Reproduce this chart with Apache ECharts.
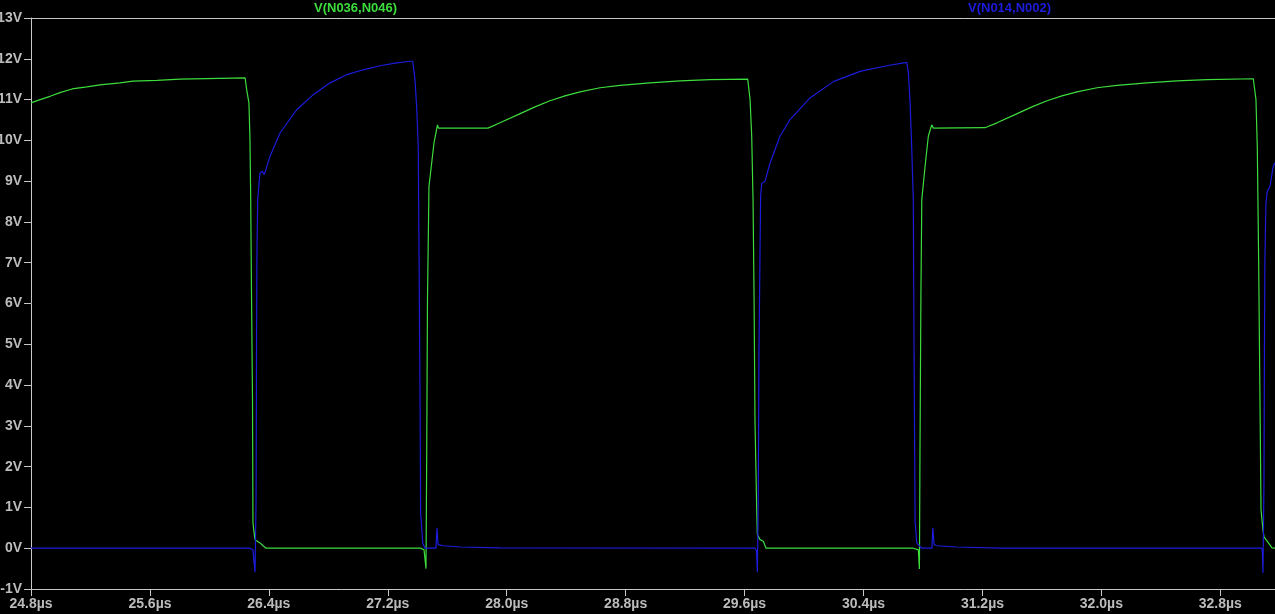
<!DOCTYPE html>
<html>
<head>
<meta charset="utf-8">
<script src="https://cdn.jsdelivr.net/npm/echarts@6/dist/echarts.min.js"></script>
<style>
html,body{margin:0;padding:0;background:#000;}
#chart{width:1275px;height:614px;}
</style>
</head>
<body>
<div id="chart"></div>
<script>
// Trace names
const traceNames = ['V(N036,N046)', 'V(N014,N002)'];

// V(N036,N046) : time (µs) and voltage (V)
const greenTime = [24.800,24.861,24.928,24.995,25.076,25.175,25.264,25.399,25.486,25.648,25.802,26.240,
  26.251,26.266,26.273,26.278,26.283,26.290,26.293,26.300,26.307,26.320,26.340,26.361,26.381,
  27.423,27.444,27.457,27.462,27.467,27.477,27.511,27.534,27.541,27.874,
  27.955,28.076,28.190,28.291,28.392,28.493,28.628,28.762,28.964,29.166,29.368,29.621,
  29.637,29.648,29.657,29.664,29.670,29.682,29.686,29.704,29.726,29.744,
  30.735,30.769,30.776,30.780,30.786,30.792,30.814,30.836,30.859,30.870,31.217,
  31.298,31.419,31.533,31.635,31.735,31.836,31.971,32.105,32.307,32.509,32.711,33.022,
  33.040,33.049,33.058,33.067,33.074,33.087,33.094,33.114,33.148,33.168];
const greenVolt = [10.92,11.00,11.08,11.17,11.26,11.31,11.36,11.41,11.45,11.47,11.50,11.53,
  11.24,10.92,10.02,8.54,6.34,3.64,0.63,0.40,0.21,0.17,0.13,0.06,0.00,
  0.00,-0.04,-0.50,2.41,6.09,8.87,9.94,10.38,10.30,10.30,
  10.43,10.63,10.82,10.97,11.09,11.19,11.29,11.35,11.41,11.46,11.49,11.50,
  11.00,10.10,8.54,6.09,3.15,0.87,0.33,0.21,0.17,0.00,
  0.00,-0.04,-0.51,2.41,6.09,8.54,9.36,10.10,10.38,10.30,10.31,
  10.43,10.63,10.82,10.97,11.09,11.19,11.29,11.35,11.41,11.46,11.49,11.51,
  11.00,9.82,7.07,3.64,0.94,0.45,0.28,0.18,0.01,0.00];

// V(N014,N002) : time (µs) and voltage (V)
const blueTime = [24.800,26.273,26.293,26.303,26.307,26.314,26.317,26.320,26.325,26.340,26.356,26.369,26.408,26.475,26.587,26.699,26.811,26.924,27.035,27.148,27.260,27.350,27.368,
  27.383,27.395,27.405,27.410,27.417,27.421,27.435,27.450,27.524,27.531,27.538,27.574,27.686,27.955,
  29.670,29.680,29.686,29.692,29.697,29.704,29.708,29.715,29.726,29.737,29.771,29.838,29.906,30.040,30.197,30.377,30.556,30.691,
  30.702,30.713,30.724,30.735,30.740,30.747,30.758,30.792,30.861,30.866,30.875,30.893,31.027,31.318,
  33.078,33.083,33.087,33.094,33.097,33.100,33.107,33.116,33.134,33.156,33.168];
const blueVolt = [0.00,0.00,-0.04,-0.06,-0.59,1.19,4.87,7.32,8.54,9.20,9.24,9.16,9.61,10.18,10.75,11.12,11.41,11.61,11.73,11.83,11.90,11.94,11.94,
  11.49,10.76,9.85,7.32,3.64,0.87,0.13,0.00,0.00,0.50,0.09,0.06,0.03,0.01,
  0.00,-0.06,-0.59,1.19,4.87,7.32,8.63,8.95,8.99,8.99,9.44,10.10,10.51,11.04,11.44,11.69,11.83,11.91,
  11.65,10.95,9.85,8.54,4.87,0.66,0.13,0.00,0.00,0.50,0.09,0.06,0.03,0.00,
  0.00,-0.06,-0.61,1.68,4.87,7.07,8.46,8.75,8.87,9.36,9.45];

// Axis settings (values)
const xMin = 24.8, xMax = 33.168, xStep = 0.8;
const yMin = -1, yMax = 13, yStep = 1;

const greenColor = '#3ddc3d';
const blueColor = '#1c1cdc';
const axisColor = '#c8c8c8';
const labelColor = '#bcbcbc';

function pairs(t, v){ return t.map((x,i)=>[x, v[i]]); }

const chart = echarts.init(document.getElementById('chart'), null, {renderer:'canvas'});
chart.setOption({
  backgroundColor: '#000000',
  animation: false,
  title: [
    {text: traceNames[0], left: 314, top: 2, padding: 0,
     textStyle:{color: greenColor, fontSize: 13, fontWeight: 'bold', fontFamily: 'Liberation Sans'}},
    {text: traceNames[1], left: 968, top: 2, padding: 0,
     textStyle:{color: blueColor, fontSize: 13, fontWeight: 'bold', fontFamily: 'Liberation Sans'}}
  ],
  grid: {left: 31, right: 0, top: 18, bottom: 25, containLabel: false, outerBoundsMode: 'none'},
  xAxis: [{
    type: 'value', min: xMin, max: xMax, interval: xStep, position: 'bottom',
    axisLine: {show: true, onZero: false, lineStyle: {color: axisColor, width: 1}},
    axisTick: {show: true, length: 7, lineStyle: {color: axisColor}},
    axisLabel: {color: labelColor, fontSize: 14, fontWeight: 'bold', fontFamily: 'Liberation Sans', margin: 8,
      showMaxLabel: false,
      formatter: v => v.toFixed(1) + 'µs'},
    splitLine: {show: false}
  },{
    type: 'value', min: xMin, max: xMax, position: 'top',
    axisLine: {show: true, onZero: false, lineStyle: {color: axisColor, width: 1}},
    axisTick: {show: false}, axisLabel: {show: false}, splitLine: {show: false}
  }],
  yAxis: {
    type: 'value', min: yMin, max: yMax, interval: yStep,
    axisLine: {show: true, onZero: false, lineStyle: {color: axisColor, width: 1}},
    axisTick: {show: true, length: 7, lineStyle: {color: axisColor}},
    axisLabel: {color: labelColor, fontSize: 14, fontWeight: 'bold', fontFamily: 'Liberation Sans', margin: 9,
      formatter: v => v + 'V'},
    splitLine: {show: false}
  },
  series: [
    {name: traceNames[0], type: 'line', xAxisIndex: 0, data: pairs(greenTime, greenVolt),
     showSymbol: false, symbol: 'none', lineStyle: {color: greenColor, width: 1.2}, itemStyle:{color: greenColor}},
    {name: traceNames[1], type: 'line', xAxisIndex: 0, data: pairs(blueTime, blueVolt),
     showSymbol: false, symbol: 'none', lineStyle: {color: blueColor, width: 1.2}, itemStyle:{color: blueColor}}
  ]
});
</script>
</body>
</html>
